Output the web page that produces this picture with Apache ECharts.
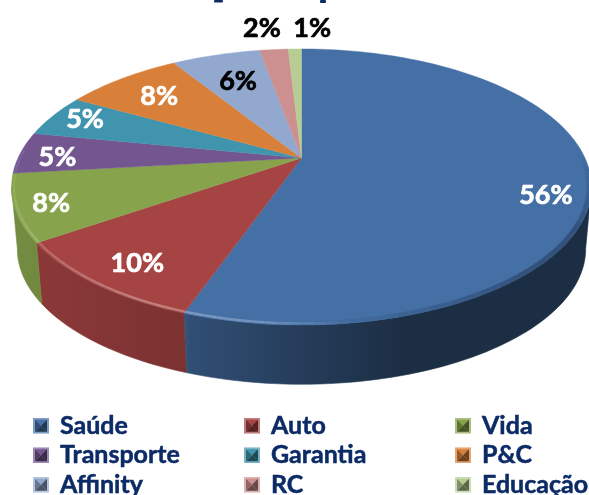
<!DOCTYPE html>
<html><head><meta charset="utf-8">
<style>html,body{margin:0;padding:0;background:#fff}#c{width:589px;height:495px}</style>
<script src="https://cdn.jsdelivr.net/npm/echarts@6/dist/echarts.min.js"></script>
</head><body><div id="c"></div>
<script>
// ---- data ----
const categories = ['Saúde','Auto','Vida','Transporte','Garantia','P&C','Affinity','RC','Educação'];
const shares = [55.4,10,7.8,4.9,5,8,6.05,1.95,0.9];
const pctLabels = ['56%','10%','8%','5%','5%','8%','6%','2%','1%'];
// ---- styles ----
const colors = ['#4570A6','#A54442','#87A44C','#735690','#4094AD','#D8803A','#92A8CF','#CD9090','#B8CD94'];
const labelColors = ['#fff','#fff','#fff','#fff','#fff','#fff','#000','#000','#000'];
// ---- layout: label placement on the unit disc (radius, clockwise degrees from top) ----
const labelRadii = [.856,.844,.883,.862,.873,.763,.712,1.25,1.24];
const labelAngles = [108,216,248.9,270.5,291.2,313.1,339,351.9,2.2];
const G = {cx:301.5, cy:158, R:283.5, S:132, k:.21, h:62.5, bottomScale:.98};
const legendLefts = [33,244,455];
const FONT = 'Lato, "Open Sans", sans-serif';

const total = shares.reduce((a,b)=>a+b,0);
const D = Math.PI/180;
function proj(deg, r, wall){
  const u = Math.sin(deg*D)*r, v = -Math.cos(deg*D)*r;
  const d = 1 - G.k*v;
  const s = wall ? G.bottomScale : 1;
  return [G.cx + s*G.R*u/d, G.cy + (wall?G.h:0) + s*G.S*v/d];
}
function hex(c){return [1,3,5].map(i=>parseInt(c.substr(i,2),16));}
function rgb(a){return 'rgb('+a.map(x=>Math.max(0,Math.min(255,Math.round(x)))).join(',')+')';}
function scale(c,f){return rgb(hex(c).map(x=>x*f));}
function mix(c,t,f){const a=hex(c),b=hex(t);return rgb(a.map((x,i)=>x+(b[i]-x)*f));}

function arc(a,b,r,wall){const pts=[];const n=Math.max(2,Math.ceil((b-a)/1.5));
  for(let i=0;i<=n;i++)pts.push(proj(a+(b-a)*i/n,r,wall));return pts;}

function wallFill(base){
  const x0=0,x1=589, stops=[[10,.86],[187,.74],[190,.7],[400,.41],[589,.41]];
  return new echarts.graphic.LinearGradient(x0,0,x1,0,
    stops.map(s=>({offset:(s[0]-x0)/(x1-x0),color:scale(base,s[1])})),true);
}
const cum=[];shares.reduce((a,s,i)=>{cum[i]=[a/total*360,(a+s)/total*360];return a+s;},0);

function renderSlice(i){
  const [a,b]=cum[i], base=colors[i], kids=[];
  const wa=Math.max(a,102), wb=Math.min(b,258);
  if(wb>wa){
    const pts=arc(wa,wb,1,false).concat(arc(wa,wb,1,true).reverse());
    const f=wallFill(base);
    kids.push({type:'polygon',shape:{points:pts},style:{fill:f,stroke:f,lineWidth:.6}});
  }
  const face=[proj(0,0)].concat(arc(a,b,1,false));
  kids.push({type:'polygon',shape:{points:face},style:{fill:base,stroke:base,lineWidth:.4}});
  // rim bevel, stepped along the front of the disc
  const step=2;
  for(let t=Math.max(a,88);t<Math.min(b,272);t+=step){
    const e=Math.min(t+step,b);
    const hi=Math.max(0,1-Math.abs(t-205)/55);
    const lo=Math.max(0,Math.min(1,(t-88)/30))*Math.max(0,Math.min(1,(178-t)/40));
    const p1=[proj(t,.992),proj(e,.992)];
    if(lo>0) kids.push({type:'polyline',shape:{points:p1},style:{stroke:'#14233a',lineWidth:5,opacity:lo*.38,fill:null}});
    if(t>=170){
      const sheen=mix(base,'#ffffff',.08+hi*.30);
      const fade=Math.min(1,(t-170)/15);
      kids.push({type:'polyline',shape:{points:p1},style:{stroke:sheen,lineWidth:2.4,opacity:.85*fade,fill:null}});
    }
  }
  const lp=proj(labelAngles[i],labelRadii[i]);
  kids.push({type:'text',x:lp[0],y:lp[1],z2:50,style:{text:pctLabels[i],fill:labelColors[i],
    stroke:labelColors[i],lineWidth:.7,
    font:'bold 27px '+FONT,align:'center',verticalAlign:'middle'}});
  return {type:'group',children:kids};
}

function iconFor(c){
  const l=mix(c,'#ffffff',.3),d=scale(c,.5),m=scale(c,.7);
  const svg='<svg xmlns="http://www.w3.org/2000/svg" width="16" height="16">'+
    '<rect width="16" height="16" fill="'+l+'"/>'+
    '<polygon points="2,2 14,2 8,8" fill="'+c+'"/>'+
    '<polygon points="2,14 14,14 8,8" fill="'+d+'"/>'+
    '<polygon points="14,2 14,14 8,8" fill="'+d+'"/>'+
    '<polygon points="2,2 2,14 8,8" fill="'+m+'"/>'+
    '</svg>';
  return 'image://data:image/svg+xml;charset=utf-8,'+encodeURIComponent(svg);
}

const legends=legendLefts.map((left,col)=>({
  orient:'vertical',left:left,top:413,height:140,padding:0,itemWidth:16,itemHeight:16,itemGap:4,selectedMode:false,
  textStyle:{fontFamily:FONT,fontWeight:'bold',fontSize:25,color:'#0B2A66',padding:[0,0,0,6],lineHeight:20,
    textBorderColor:'#0B2A66',textBorderWidth:.5},
  data:categories.filter((_,i)=>i%3===col).map(n=>({name:n,icon:iconFor(colors[categories.indexOf(n)])}))
}));

const chart=echarts.init(document.getElementById('c'),null,{renderer:'canvas'});
chart.setOption({
  animation:false,backgroundColor:'#fff',tooltip:{show:false},
  legend:legends,
  graphic:[
    {type:'rect',shape:{x:214,y:0,width:9,height:2.5,r:1},style:{fill:'#0B2A66'}},
    {type:'rect',shape:{x:320,y:0,width:6,height:3,r:1},style:{fill:'#0B2A66'}}
  ],
  series:categories.map((n,i)=>({
    type:'custom',name:n,coordinateSystem:'none',silent:true,
    itemStyle:{color:colors[i]},
    data:[[shares[i]]],
    renderItem:()=>renderSlice(i)
  }))
});
</script></body></html>
